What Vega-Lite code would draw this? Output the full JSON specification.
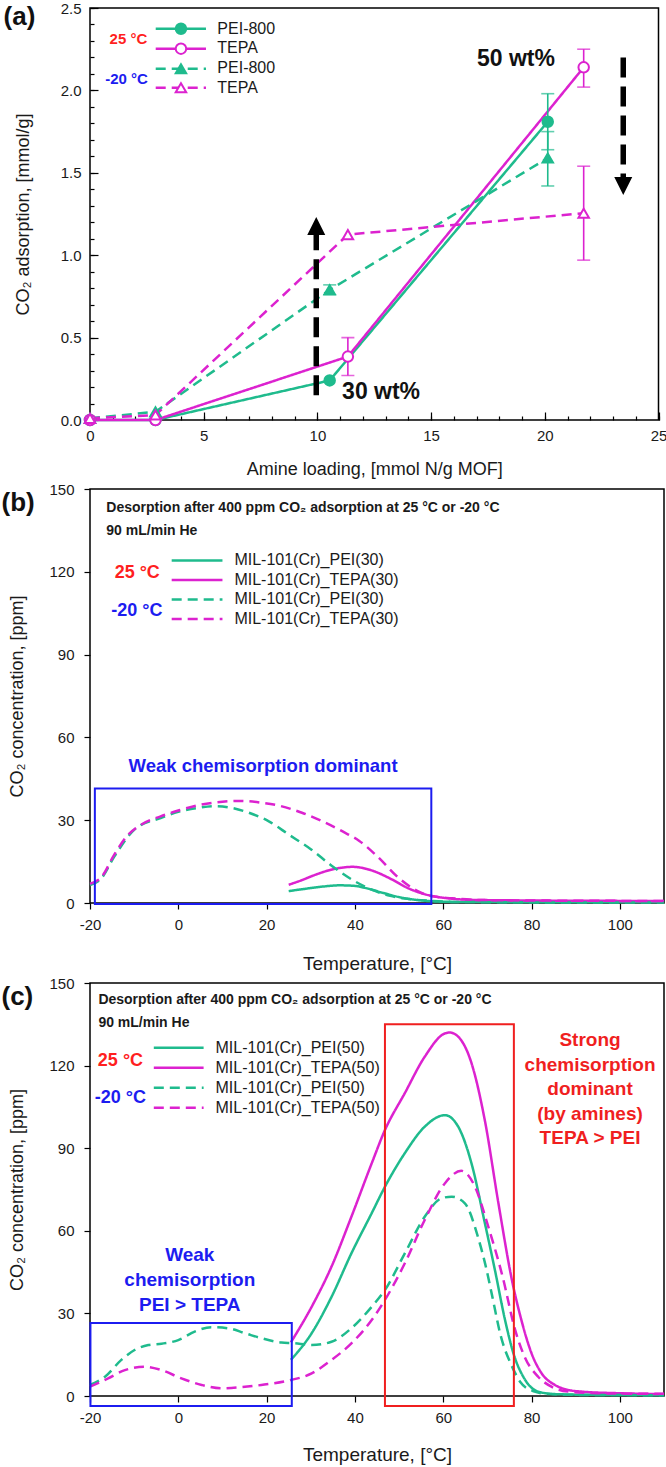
{
  "$schema": "https://vega.github.io/schema/vega-lite/v6.json",
  "padding": {"top": 0, "left": 0, "right": 0, "bottom": 0},
  "background": "white",
  "config": {
    "font": "Liberation Sans",
    "view": {"stroke": "#000", "strokeWidth": 1.5},
    "axis": {"grid": false, "domain": false, "labelFontSize": 15, "titleFontSize": 18, "titleFontWeight": "normal", "labelColor": "#1a1a1a", "titleColor": "#1a1a1a", "tickColor": "#000", "tickWidth": 1.2, "labelFlush": false}
  },
  "datasets": {
    "ads": [
      {"series": "PEI25", "loading": 0, "co2": 0.0},
      {"series": "PEI25", "loading": 2.88, "co2": 0.0},
      {"series": "PEI25", "loading": 10.54, "co2": 0.24},
      {"series": "PEI25", "loading": 20.13, "co2": 1.81, "lo": 1.64, "hi": 1.98},
      {"series": "TEPA25", "loading": 0, "co2": 0.0},
      {"series": "TEPA25", "loading": 2.88, "co2": 0.0},
      {"series": "TEPA25", "loading": 11.34, "co2": 0.385, "lo": 0.27, "hi": 0.5},
      {"series": "TEPA25", "loading": 21.71, "co2": 2.14, "lo": 2.02, "hi": 2.25},
      {"series": "PEI-20", "loading": 0, "co2": 0.01},
      {"series": "PEI-20", "loading": 2.88, "co2": 0.05},
      {"series": "PEI-20", "loading": 10.54, "co2": 0.79, "lo": 0.76, "hi": 0.82},
      {"series": "PEI-20", "loading": 20.13, "co2": 1.59, "lo": 1.42, "hi": 1.75},
      {"series": "TEPA-20", "loading": 0, "co2": 0.01},
      {"series": "TEPA-20", "loading": 2.88, "co2": 0.03},
      {"series": "TEPA-20", "loading": 11.34, "co2": 1.125},
      {"series": "TEPA-20", "loading": 21.71, "co2": 1.255, "lo": 0.97, "hi": 1.54}
    ],
    "tpd30": [
      {"series": "PEI25", "temp": 25, "ppm": 4.3}, {"series": "PEI25", "temp": 29, "ppm": 5.2}, {"series": "PEI25", "temp": 33, "ppm": 6.0}, {"series": "PEI25", "temp": 36.5, "ppm": 6.4}, {"series": "PEI25", "temp": 40, "ppm": 6.2}, {"series": "PEI25", "temp": 42.5, "ppm": 5.4}, {"series": "PEI25", "temp": 46.5, "ppm": 3.6}, {"series": "PEI25", "temp": 51, "ppm": 1.8}, {"series": "PEI25", "temp": 56, "ppm": 0.8}, {"series": "PEI25", "temp": 62, "ppm": 0.4}, {"series": "PEI25", "temp": 80, "ppm": 0.3}, {"series": "PEI25", "temp": 110, "ppm": 0.3},
      {"series": "TEPA25", "temp": 25, "ppm": 6.6}, {"series": "TEPA25", "temp": 28, "ppm": 8.3}, {"series": "TEPA25", "temp": 31, "ppm": 10.2}, {"series": "TEPA25", "temp": 34, "ppm": 11.8}, {"series": "TEPA25", "temp": 37, "ppm": 12.8}, {"series": "TEPA25", "temp": 39.5, "ppm": 13.1}, {"series": "TEPA25", "temp": 42, "ppm": 12.6}, {"series": "TEPA25", "temp": 44.5, "ppm": 11.4}, {"series": "TEPA25", "temp": 48.3, "ppm": 8.6}, {"series": "TEPA25", "temp": 52, "ppm": 5.4}, {"series": "TEPA25", "temp": 56, "ppm": 3.1}, {"series": "TEPA25", "temp": 60, "ppm": 1.9}, {"series": "TEPA25", "temp": 67.5, "ppm": 1.1}, {"series": "TEPA25", "temp": 80, "ppm": 0.9}, {"series": "TEPA25", "temp": 95, "ppm": 0.8}, {"series": "TEPA25", "temp": 110, "ppm": 0.7},
      {"series": "PEI-20", "temp": -20, "ppm": 6.5}, {"series": "PEI-20", "temp": -17.5, "ppm": 8.8}, {"series": "PEI-20", "temp": -14.5, "ppm": 16.8}, {"series": "PEI-20", "temp": -10, "ppm": 26.5}, {"series": "PEI-20", "temp": -4, "ppm": 30.8}, {"series": "PEI-20", "temp": 0, "ppm": 33.0}, {"series": "PEI-20", "temp": 5, "ppm": 34.6}, {"series": "PEI-20", "temp": 8.5, "ppm": 35.1}, {"series": "PEI-20", "temp": 12, "ppm": 34.5}, {"series": "PEI-20", "temp": 16, "ppm": 32.7}, {"series": "PEI-20", "temp": 20.5, "ppm": 29.6}, {"series": "PEI-20", "temp": 25, "ppm": 24.8}, {"series": "PEI-20", "temp": 30, "ppm": 19.5}, {"series": "PEI-20", "temp": 34.5, "ppm": 13.8}, {"series": "PEI-20", "temp": 39, "ppm": 8.8}, {"series": "PEI-20", "temp": 43.5, "ppm": 5.0}, {"series": "PEI-20", "temp": 48, "ppm": 2.6}, {"series": "PEI-20", "temp": 53, "ppm": 1.3}, {"series": "PEI-20", "temp": 57, "ppm": 0.8}, {"series": "PEI-20", "temp": 62, "ppm": 0.4}, {"series": "PEI-20", "temp": 70, "ppm": 0.3}, {"series": "PEI-20", "temp": 90, "ppm": 0.2}, {"series": "PEI-20", "temp": 110, "ppm": 0.2},
      {"series": "TEPA-20", "temp": -20, "ppm": 7.0}, {"series": "TEPA-20", "temp": -17.5, "ppm": 9.2}, {"series": "TEPA-20", "temp": -14.5, "ppm": 17.5}, {"series": "TEPA-20", "temp": -11.5, "ppm": 24.5}, {"series": "TEPA-20", "temp": -8.5, "ppm": 28.3}, {"series": "TEPA-20", "temp": -4, "ppm": 31.4}, {"series": "TEPA-20", "temp": 0, "ppm": 33.5}, {"series": "TEPA-20", "temp": 5, "ppm": 35.6}, {"series": "TEPA-20", "temp": 10, "ppm": 36.7}, {"series": "TEPA-20", "temp": 14, "ppm": 37.0}, {"series": "TEPA-20", "temp": 19, "ppm": 36.3}, {"series": "TEPA-20", "temp": 23, "ppm": 35.2}, {"series": "TEPA-20", "temp": 28, "ppm": 32.7}, {"series": "TEPA-20", "temp": 32.5, "ppm": 29.7}, {"series": "TEPA-20", "temp": 37, "ppm": 26.1}, {"series": "TEPA-20", "temp": 41, "ppm": 22.5}, {"series": "TEPA-20", "temp": 45, "ppm": 17.0}, {"series": "TEPA-20", "temp": 50, "ppm": 9.0}, {"series": "TEPA-20", "temp": 54, "ppm": 4.5}, {"series": "TEPA-20", "temp": 57, "ppm": 2.6}, {"series": "TEPA-20", "temp": 62, "ppm": 1.7}, {"series": "TEPA-20", "temp": 68, "ppm": 1.1}, {"series": "TEPA-20", "temp": 80, "ppm": 0.9}, {"series": "TEPA-20", "temp": 95, "ppm": 0.8}, {"series": "TEPA-20", "temp": 110, "ppm": 0.7}
    ],
    "tpd50": [
      {"series": "PEI25", "temp": 25.5, "ppm": 13.1}, {"series": "PEI25", "temp": 30.2, "ppm": 22.8}, {"series": "PEI25", "temp": 34.7, "ppm": 36.0}, {"series": "PEI25", "temp": 39.2, "ppm": 51.8}, {"series": "PEI25", "temp": 43.8, "ppm": 66.4}, {"series": "PEI25", "temp": 46.8, "ppm": 76.0}, {"series": "PEI25", "temp": 51.3, "ppm": 88.2}, {"series": "PEI25", "temp": 55.8, "ppm": 97.8}, {"series": "PEI25", "temp": 60.4, "ppm": 102}, {"series": "PEI25", "temp": 63.4, "ppm": 97.8}, {"series": "PEI25", "temp": 66.4, "ppm": 84.5}, {"series": "PEI25", "temp": 69.4, "ppm": 63}, {"series": "PEI25", "temp": 71.7, "ppm": 45.8}, {"series": "PEI25", "temp": 74, "ppm": 27.6}, {"series": "PEI25", "temp": 75.9, "ppm": 15.5}, {"series": "PEI25", "temp": 78.5, "ppm": 6}, {"series": "PEI25", "temp": 81.5, "ppm": 1.6}, {"series": "PEI25", "temp": 85.3, "ppm": 0.7}, {"series": "PEI25", "temp": 95, "ppm": 0.4}, {"series": "PEI25", "temp": 110, "ppm": 0.3},
      {"series": "TEPA25", "temp": 25.5, "ppm": 19.5}, {"series": "TEPA25", "temp": 30.2, "ppm": 32.4}, {"series": "TEPA25", "temp": 34.7, "ppm": 47}, {"series": "TEPA25", "temp": 39.2, "ppm": 65.1}, {"series": "TEPA25", "temp": 43.8, "ppm": 84.5}, {"series": "TEPA25", "temp": 46.8, "ppm": 96.6}, {"series": "TEPA25", "temp": 51.3, "ppm": 110}, {"series": "TEPA25", "temp": 55.8, "ppm": 123.2}, {"series": "TEPA25", "temp": 60.4, "ppm": 131.7}, {"series": "TEPA25", "temp": 61.5, "ppm": 132}, {"series": "TEPA25", "temp": 63.4, "ppm": 130.5}, {"series": "TEPA25", "temp": 66.4, "ppm": 120.9}, {"series": "TEPA25", "temp": 69.4, "ppm": 100.3}, {"series": "TEPA25", "temp": 72.5, "ppm": 70}, {"series": "TEPA25", "temp": 75.7, "ppm": 41}, {"series": "TEPA25", "temp": 77.7, "ppm": 27.6}, {"series": "TEPA25", "temp": 80, "ppm": 15.5}, {"series": "TEPA25", "temp": 82.3, "ppm": 8.2}, {"series": "TEPA25", "temp": 85.3, "ppm": 4.0}, {"series": "TEPA25", "temp": 88.3, "ppm": 2.2}, {"series": "TEPA25", "temp": 91.3, "ppm": 1.6}, {"series": "TEPA25", "temp": 100, "ppm": 1.0}, {"series": "TEPA25", "temp": 110, "ppm": 0.7},
      {"series": "PEI-20", "temp": -20, "ppm": 4.0}, {"series": "PEI-20", "temp": -16.6, "ppm": 7.0}, {"series": "PEI-20", "temp": -12.9, "ppm": 13.1}, {"series": "PEI-20", "temp": -9.9, "ppm": 16.7}, {"series": "PEI-20", "temp": -6.8, "ppm": 18.5}, {"series": "PEI-20", "temp": -3.8, "ppm": 19.0}, {"series": "PEI-20", "temp": 0, "ppm": 20.3}, {"series": "PEI-20", "temp": 3.7, "ppm": 23.4}, {"series": "PEI-20", "temp": 7.5, "ppm": 25.0}, {"series": "PEI-20", "temp": 11.3, "ppm": 24.6}, {"series": "PEI-20", "temp": 15.1, "ppm": 22.8}, {"series": "PEI-20", "temp": 18.8, "ppm": 21.0}, {"series": "PEI-20", "temp": 23.4, "ppm": 19.4}, {"series": "PEI-20", "temp": 26, "ppm": 19.2}, {"series": "PEI-20", "temp": 30.2, "ppm": 18.5}, {"series": "PEI-20", "temp": 34.7, "ppm": 19.7}, {"series": "PEI-20", "temp": 39.2, "ppm": 24.6}, {"series": "PEI-20", "temp": 43.8, "ppm": 32.4}, {"series": "PEI-20", "temp": 46.8, "ppm": 38.5}, {"series": "PEI-20", "temp": 51.3, "ppm": 51.8}, {"series": "PEI-20", "temp": 55.8, "ppm": 65.1}, {"series": "PEI-20", "temp": 59.6, "ppm": 71.8}, {"series": "PEI-20", "temp": 61.9, "ppm": 72.4}, {"series": "PEI-20", "temp": 64.9, "ppm": 70.0}, {"series": "PEI-20", "temp": 68, "ppm": 57}, {"series": "PEI-20", "temp": 69.5, "ppm": 48}, {"series": "PEI-20", "temp": 71, "ppm": 37}, {"series": "PEI-20", "temp": 73, "ppm": 22}, {"series": "PEI-20", "temp": 75.5, "ppm": 11}, {"series": "PEI-20", "temp": 77.5, "ppm": 5}, {"series": "PEI-20", "temp": 80.5, "ppm": 1.7}, {"series": "PEI-20", "temp": 84, "ppm": 0.7}, {"series": "PEI-20", "temp": 90, "ppm": 0.4}, {"series": "PEI-20", "temp": 110, "ppm": 0.3},
      {"series": "TEPA-20", "temp": -20, "ppm": 3.4}, {"series": "TEPA-20", "temp": -15.9, "ppm": 6.4}, {"series": "TEPA-20", "temp": -12.1, "ppm": 9.4}, {"series": "TEPA-20", "temp": -7.6, "ppm": 10.6}, {"series": "TEPA-20", "temp": -3.8, "ppm": 9.4}, {"series": "TEPA-20", "temp": 0.7, "ppm": 6.4}, {"series": "TEPA-20", "temp": 5.3, "ppm": 4.0}, {"series": "TEPA-20", "temp": 9.8, "ppm": 2.8}, {"series": "TEPA-20", "temp": 14.3, "ppm": 3.2}, {"series": "TEPA-20", "temp": 18.8, "ppm": 4.0}, {"series": "TEPA-20", "temp": 24.9, "ppm": 5.6}, {"series": "TEPA-20", "temp": 30.2, "ppm": 8.2}, {"series": "TEPA-20", "temp": 34.7, "ppm": 13.1}, {"series": "TEPA-20", "temp": 39.2, "ppm": 19.1}, {"series": "TEPA-20", "temp": 43.8, "ppm": 27.6}, {"series": "TEPA-20", "temp": 46.8, "ppm": 34.9}, {"series": "TEPA-20", "temp": 51.3, "ppm": 48.2}, {"series": "TEPA-20", "temp": 55.8, "ppm": 63.9}, {"series": "TEPA-20", "temp": 60.4, "ppm": 77.3}, {"series": "TEPA-20", "temp": 64.1, "ppm": 81.8}, {"series": "TEPA-20", "temp": 67.2, "ppm": 76.0}, {"series": "TEPA-20", "temp": 70.2, "ppm": 61.5}, {"series": "TEPA-20", "temp": 73.5, "ppm": 43}, {"series": "TEPA-20", "temp": 76.2, "ppm": 24.5}, {"series": "TEPA-20", "temp": 78.5, "ppm": 14}, {"series": "TEPA-20", "temp": 81.5, "ppm": 7}, {"series": "TEPA-20", "temp": 84.5, "ppm": 3.4}, {"series": "TEPA-20", "temp": 88.3, "ppm": 1.6}, {"series": "TEPA-20", "temp": 95, "ppm": 1.0}, {"series": "TEPA-20", "temp": 110, "ppm": 0.8}
    ]
  },
  "concat": [
    {
      "width": 568.5,
      "height": 412,
      "data": {"name": "ads"},
      "resolve": {"axis": {"x": "independent", "y": "independent"}},
      "layer": [
        {
          "layer": [
            {
              "mark": {"type": "line", "strokeWidth": 2.5},
              "encoding": {
                "x": {"field": "loading", "type": "quantitative", "scale": {"domain": [0, 25], "nice": false, "zero": false},
                  "axis": {"title": "Amine loading, [mmol N/g MOF]", "values": [0, 5, 10, 15, 20, 25], "tickSize": -8, "labelPadding": 16.5, "titlePadding": 17}},
                "y": {"field": "co2", "type": "quantitative", "scale": {"domain": [0, 2.5], "nice": false, "zero": false},
                  "axis": {"title": "CO₂ adsorption, [mmol/g]", "values": [0, 0.5, 1, 1.5, 2, 2.5], "format": ".1f", "tickSize": -8, "labelPadding": 17, "titlePadding": 28}},
                "color": {"field": "series", "type": "nominal", "scale": {"domain": ["PEI25", "TEPA25", "PEI-20", "TEPA-20"], "range": ["#1fbb8d", "#dc22cf", "#1fbb8d", "#dc22cf"]}, "legend": null},
                "strokeDash": {"field": "series", "type": "nominal", "scale": {"domain": ["PEI25", "TEPA25", "PEI-20", "TEPA-20"], "range": [[1, 0], [1, 0], [10, 6], [10, 6]]}, "legend": null}
              }
            },
            {
              "transform": [{"filter": "isValid(datum.lo)"}],
              "mark": {"type": "errorbar", "ticks": true, "size": 13, "thickness": 1.6},
              "encoding": {
                "x": {"field": "loading", "type": "quantitative", "title": "Amine loading, [mmol N/g MOF]"},
                "y": {"field": "lo", "type": "quantitative", "title": "CO₂ adsorption, [mmol/g]"},
                "y2": {"field": "hi"},
                "color": {"field": "series", "type": "nominal", "legend": null}
              }
            },
            {
              "mark": {"type": "point", "size": 110, "strokeWidth": 2, "opacity": 1},
              "encoding": {
                "x": {"field": "loading", "type": "quantitative", "title": "Amine loading, [mmol N/g MOF]"},
                "y": {"field": "co2", "type": "quantitative", "title": "CO₂ adsorption, [mmol/g]"},
                "shape": {"field": "series", "type": "nominal", "scale": {"domain": ["PEI25", "TEPA25", "PEI-20", "TEPA-20"], "range": ["circle", "circle", "triangle-up", "triangle-up"]}, "legend": null},
                "fill": {"field": "series", "type": "nominal", "scale": {"domain": ["PEI25", "TEPA25", "PEI-20", "TEPA-20"], "range": ["#1fbb8d", "#ffffff", "#1fbb8d", "#ffffff"]}, "legend": null},
                "stroke": {"field": "series", "type": "nominal", "scale": {"domain": ["PEI25", "TEPA25", "PEI-20", "TEPA-20"], "range": ["#1fbb8d", "#dc22cf", "#1fbb8d", "#dc22cf"]}, "legend": null}
              }
            },
            {"data": {"values": [{}]}, "mark": {"type": "text", "text": "(a)", "fontSize": 26, "fontWeight": "bold", "align": "left", "baseline": "middle", "color": "#111"}, "encoding": {"x": {"datum": -3.8}, "y": {"datum": 2.445}}},
            {"data": {"values": [{}]}, "mark": {"type": "text", "text": "25 °C", "fontSize": 15, "fontWeight": "bold", "align": "center", "baseline": "middle", "color": "#ff1f1f"}, "encoding": {"x": {"datum": 1.69}, "y": {"datum": 2.314}}},
            {"data": {"values": [{}]}, "mark": {"type": "text", "text": "-20 °C", "fontSize": 15, "fontWeight": "bold", "align": "center", "baseline": "middle", "color": "#1c1cf0"}, "encoding": {"x": {"datum": 1.61}, "y": {"datum": 2.071}}},
            {"data": {"values": [{}]}, "mark": {"type": "rule", "color": "#1fbb8d", "strokeWidth": 2.5}, "encoding": {"x": {"datum": 2.89}, "x2": {"datum": 5.1}, "y": {"datum": 2.374}}},
            {"data": {"values": [{}]}, "mark": {"type": "rule", "color": "#dc22cf", "strokeWidth": 2.5}, "encoding": {"x": {"datum": 2.89}, "x2": {"datum": 5.1}, "y": {"datum": 2.253}}},
            {"data": {"values": [{}]}, "mark": {"type": "rule", "color": "#1fbb8d", "strokeWidth": 2.5, "strokeDash": [10, 6]}, "encoding": {"x": {"datum": 2.89}, "x2": {"datum": 5.1}, "y": {"datum": 2.131}}},
            {"data": {"values": [{}]}, "mark": {"type": "rule", "color": "#dc22cf", "strokeWidth": 2.5, "strokeDash": [10, 6]}, "encoding": {"x": {"datum": 2.89}, "x2": {"datum": 5.1}, "y": {"datum": 2.016}}},
            {"data": {"values": [{}]}, "mark": {"type": "point", "shape": "circle", "size": 110, "strokeWidth": 2, "opacity": 1, "fill": "#1fbb8d", "stroke": "#1fbb8d"}, "encoding": {"x": {"datum": 4.0}, "y": {"datum": 2.374}}},
            {"data": {"values": [{}]}, "mark": {"type": "point", "shape": "circle", "size": 110, "strokeWidth": 2, "opacity": 1, "fill": "#ffffff", "stroke": "#dc22cf"}, "encoding": {"x": {"datum": 4.0}, "y": {"datum": 2.253}}},
            {"data": {"values": [{}]}, "mark": {"type": "point", "shape": "triangle-up", "size": 110, "strokeWidth": 2, "opacity": 1, "fill": "#1fbb8d", "stroke": "#1fbb8d"}, "encoding": {"x": {"datum": 4.0}, "y": {"datum": 2.131}}},
            {"data": {"values": [{}]}, "mark": {"type": "point", "shape": "triangle-up", "size": 110, "strokeWidth": 2, "opacity": 1, "fill": "#ffffff", "stroke": "#dc22cf"}, "encoding": {"x": {"datum": 4.0}, "y": {"datum": 2.016}}},
            {"data": {"values": [{}]}, "mark": {"type": "text", "text": ["PEI-800", "TEPA", "PEI-800", "TEPA"], "fontSize": 16, "lineHeight": 19.7, "align": "left", "baseline": "middle", "color": "#1a1a1a"}, "encoding": {"x": {"datum": 5.6}, "y": {"datum": 2.374}}},
            {"data": {"values": [{}]}, "mark": {"type": "text", "text": "50 wt%", "fontSize": 23, "fontWeight": "bold", "align": "center", "baseline": "middle", "color": "#111"}, "encoding": {"x": {"datum": 18.73}, "y": {"datum": 2.19}}},
            {"data": {"values": [{}]}, "mark": {"type": "text", "text": "30 wt%", "fontSize": 23, "fontWeight": "bold", "align": "center", "baseline": "middle", "color": "#111"}, "encoding": {"x": {"datum": 12.8}, "y": {"datum": 0.17}}},
            {"data": {"values": [{}]}, "mark": {"type": "rule", "color": "#000", "strokeWidth": 5.5, "strokeDash": [20, 9]}, "encoding": {"x": {"datum": 9.95}, "y": {"datum": 0.15}, "y2": {"datum": 1.13}}},
            {"data": {"values": [{}]}, "mark": {"type": "point", "shape": "M0,-1L1,1L-1,1Z", "size": 324, "filled": true, "color": "#000", "opacity": 1}, "encoding": {"x": {"datum": 9.95}, "y": {"datum": 1.177}}},
            {"data": {"values": [{}]}, "mark": {"type": "rule", "color": "#000", "strokeWidth": 5.5, "strokeDash": [20, 9]}, "encoding": {"x": {"datum": 23.45}, "y": {"datum": 2.2}, "y2": {"datum": 1.45}}},
            {"data": {"values": [{}]}, "mark": {"type": "point", "shape": "M-1,-1L1,-1L0,1Z", "size": 324, "filled": true, "color": "#000", "opacity": 1}, "encoding": {"x": {"datum": 23.45}, "y": {"datum": 1.42}}}
          ]
        },
        {
          "mark": {"type": "point", "opacity": 0},
          "encoding": {
            "x": {"field": "loading", "type": "quantitative",
              "axis": {"orient": "bottom", "values": [0,1,2,3,4,5,6,7,8,9,10,11,12,13,14,15,16,17,18,19,20,21,22,23,24,25], "labels": false, "title": null, "tickSize": -4}},
            "y": {"field": "co2", "type": "quantitative",
              "axis": {"orient": "left", "values": [0,0.1,0.2,0.3,0.4,0.5,0.6,0.7,0.8,0.9,1,1.1,1.2,1.3,1.4,1.5,1.6,1.7,1.8,1.9,2,2.1,2.2,2.3,2.4,2.5], "labels": false, "title": null, "tickSize": -4}}
          }
        }
      ]
    },
    {
      "width": 574,
      "height": 414,
      "data": {"name": "tpd30"},
      "layer": [
        {
          "mark": {"type": "line", "strokeWidth": 2.5, "interpolate": "monotone"},
          "encoding": {
            "x": {"field": "temp", "type": "quantitative", "scale": {"domain": [-20, 110], "nice": false, "zero": false},
              "axis": {"title": "Temperature, [°C]", "values": [-20, 0, 20, 40, 60, 80, 100], "labelExpr": "replace(datum.label, '−', '-')", "tickSize": 6, "labelPadding": 8, "titlePadding": 22, "titleFontSize": 19}},
            "y": {"field": "ppm", "type": "quantitative", "scale": {"domain": [0, 150], "nice": false, "zero": false},
              "axis": {"title": "CO₂ concentration, [ppm]", "values": [0, 30, 60, 90, 120, 150], "tickSize": 6, "labelPadding": 10, "titlePadding": 22}},
            "color": {"field": "series", "type": "nominal", "scale": {"domain": ["PEI25", "TEPA25", "PEI-20", "TEPA-20"], "range": ["#1fbb8d", "#dc22cf", "#1fbb8d", "#dc22cf"]}, "legend": null},
            "strokeDash": {"field": "series", "type": "nominal", "scale": {"domain": ["PEI25", "TEPA25", "PEI-20", "TEPA-20"], "range": [[1, 0], [1, 0], [10, 6], [10, 6]]}, "legend": null}
          }
        },
        {"data": {"values": [{}]}, "mark": {"type": "rect", "filled": false, "color": "#1c1cf0", "strokeWidth": 2}, "encoding": {"x": {"datum": -18.9}, "x2": {"datum": 57.3}, "y": {"datum": -0.4}, "y2": {"datum": 41.5}}},
        {"data": {"values": [{}]}, "mark": {"type": "text", "text": "(b)", "fontSize": 26, "fontWeight": "bold", "align": "left", "baseline": "middle", "color": "#111"}, "encoding": {"x": {"datum": -40.05}, "y": {"datum": 144.9}}},
        {"data": {"values": [{}]}, "mark": {"type": "text", "text": "Desorption after 400 ppm CO₂ adsorption at 25 °C or -20 °C", "fontSize": 14, "fontWeight": "bold", "align": "left", "baseline": "middle", "color": "#1a1a1a"}, "encoding": {"x": {"datum": -16.3}, "y": {"datum": 143.1}}},
        {"data": {"values": [{}]}, "mark": {"type": "text", "text": "90 mL/min He", "fontSize": 14, "fontWeight": "bold", "align": "left", "baseline": "middle", "color": "#1a1a1a"}, "encoding": {"x": {"datum": -16.3}, "y": {"datum": 134.8}}},
        {"data": {"values": [{}]}, "mark": {"type": "text", "text": "25 °C", "fontSize": 18, "fontWeight": "bold", "align": "center", "baseline": "middle", "color": "#ff1f1f"}, "encoding": {"x": {"datum": -9.3}, "y": {"datum": 119.7}}},
        {"data": {"values": [{}]}, "mark": {"type": "text", "text": "-20 °C", "fontSize": 18, "fontWeight": "bold", "align": "center", "baseline": "middle", "color": "#1c1cf0"}, "encoding": {"x": {"datum": -9.4}, "y": {"datum": 105.8}}},
        {"data": {"values": [{}]}, "mark": {"type": "rule", "color": "#1fbb8d", "strokeWidth": 2.5}, "encoding": {"x": {"datum": -1.5}, "x2": {"datum": 10}, "y": {"datum": 124.1}}},
        {"data": {"values": [{}]}, "mark": {"type": "rule", "color": "#dc22cf", "strokeWidth": 2.5}, "encoding": {"x": {"datum": -1.5}, "x2": {"datum": 10}, "y": {"datum": 117.0}}},
        {"data": {"values": [{}]}, "mark": {"type": "rule", "color": "#1fbb8d", "strokeWidth": 2.5, "strokeDash": [10, 6]}, "encoding": {"x": {"datum": -1.5}, "x2": {"datum": 10}, "y": {"datum": 110.0}}},
        {"data": {"values": [{}]}, "mark": {"type": "rule", "color": "#dc22cf", "strokeWidth": 2.5, "strokeDash": [10, 6]}, "encoding": {"x": {"datum": -1.5}, "x2": {"datum": 10}, "y": {"datum": 102.9}}},
        {"data": {"values": [{}]}, "mark": {"type": "text", "text": ["MIL-101(Cr)_PEI(30)", "MIL-101(Cr)_TEPA(30)", "MIL-101(Cr)_PEI(30)", "MIL-101(Cr)_TEPA(30)"], "fontSize": 16, "lineHeight": 19.5, "align": "left", "baseline": "middle", "color": "#1a1a1a"}, "encoding": {"x": {"datum": 12.7}, "y": {"datum": 124.1}}},
        {"data": {"values": [{}]}, "mark": {"type": "text", "text": "Weak chemisorption dominant", "fontSize": 18.5, "fontWeight": "bold", "align": "center", "baseline": "middle", "color": "#1c1cf0"}, "encoding": {"x": {"datum": 19.2}, "y": {"datum": 49.6}}}
      ]
    },
    {
      "width": 574,
      "height": 413,
      "data": {"name": "tpd50"},
      "layer": [
        {
          "mark": {"type": "line", "strokeWidth": 2.5, "interpolate": "monotone"},
          "encoding": {
            "x": {"field": "temp", "type": "quantitative", "scale": {"domain": [-20, 110], "nice": false, "zero": false},
              "axis": {"title": "Temperature, [°C]", "values": [-20, 0, 20, 40, 60, 80, 100], "labelExpr": "replace(datum.label, '−', '-')", "tickSize": 6, "labelPadding": 8, "titlePadding": 20, "titleFontSize": 19}},
            "y": {"field": "ppm", "type": "quantitative", "scale": {"domain": [0, 150], "nice": false, "zero": false},
              "axis": {"title": "CO₂ concentration, [ppm]", "values": [0, 30, 60, 90, 120, 150], "tickSize": 6, "labelPadding": 10, "titlePadding": 22}},
            "color": {"field": "series", "type": "nominal", "scale": {"domain": ["PEI25", "TEPA25", "PEI-20", "TEPA-20"], "range": ["#1fbb8d", "#dc22cf", "#1fbb8d", "#dc22cf"]}, "legend": null},
            "strokeDash": {"field": "series", "type": "nominal", "scale": {"domain": ["PEI25", "TEPA25", "PEI-20", "TEPA-20"], "range": [[1, 0], [1, 0], [10, 6], [10, 6]]}, "legend": null}
          }
        },
        {"data": {"values": [{}]}, "mark": {"type": "rect", "filled": false, "color": "#1c1cf0", "strokeWidth": 2}, "encoding": {"x": {"datum": -19.9}, "x2": {"datum": 25.7}, "y": {"datum": -3.6}, "y2": {"datum": 26.5}}},
        {"data": {"values": [{}]}, "mark": {"type": "rect", "filled": false, "color": "#f01f1f", "strokeWidth": 2}, "encoding": {"x": {"datum": 46.8}, "x2": {"datum": 76.0}, "y": {"datum": -3.6}, "y2": {"datum": 135}}},
        {"data": {"values": [{}]}, "mark": {"type": "text", "text": "(c)", "fontSize": 26, "fontWeight": "bold", "align": "left", "baseline": "middle", "color": "#111"}, "encoding": {"x": {"datum": -40.05}, "y": {"datum": 144.9}}},
        {"data": {"values": [{}]}, "mark": {"type": "text", "text": "Desorption after 400 ppm CO₂ adsorption at 25 °C or -20 °C", "fontSize": 14, "fontWeight": "bold", "align": "left", "baseline": "middle", "color": "#1a1a1a"}, "encoding": {"x": {"datum": -18.1}, "y": {"datum": 143.8}}},
        {"data": {"values": [{}]}, "mark": {"type": "text", "text": "90 mL/min He", "fontSize": 14, "fontWeight": "bold", "align": "left", "baseline": "middle", "color": "#1a1a1a"}, "encoding": {"x": {"datum": -18.1}, "y": {"datum": 135.5}}},
        {"data": {"values": [{}]}, "mark": {"type": "text", "text": "25 °C", "fontSize": 18, "fontWeight": "bold", "align": "center", "baseline": "middle", "color": "#ff1f1f"}, "encoding": {"x": {"datum": -13.1}, "y": {"datum": 121.7}}},
        {"data": {"values": [{}]}, "mark": {"type": "text", "text": "-20 °C", "fontSize": 18, "fontWeight": "bold", "align": "center", "baseline": "middle", "color": "#1c1cf0"}, "encoding": {"x": {"datum": -13.1}, "y": {"datum": 108.4}}},
        {"data": {"values": [{}]}, "mark": {"type": "rule", "color": "#1fbb8d", "strokeWidth": 2.5}, "encoding": {"x": {"datum": -5.55}, "x2": {"datum": 5.73}, "y": {"datum": 126.5}}},
        {"data": {"values": [{}]}, "mark": {"type": "rule", "color": "#dc22cf", "strokeWidth": 2.5}, "encoding": {"x": {"datum": -5.55}, "x2": {"datum": 5.73}, "y": {"datum": 119.2}}},
        {"data": {"values": [{}]}, "mark": {"type": "rule", "color": "#1fbb8d", "strokeWidth": 2.5, "strokeDash": [10, 6]}, "encoding": {"x": {"datum": -5.55}, "x2": {"datum": 5.73}, "y": {"datum": 112.0}}},
        {"data": {"values": [{}]}, "mark": {"type": "rule", "color": "#dc22cf", "strokeWidth": 2.5, "strokeDash": [10, 6]}, "encoding": {"x": {"datum": -5.55}, "x2": {"datum": 5.73}, "y": {"datum": 104.7}}},
        {"data": {"values": [{}]}, "mark": {"type": "text", "text": ["MIL-101(Cr)_PEI(50)", "MIL-101(Cr)_TEPA(50)", "MIL-101(Cr)_PEI(50)", "MIL-101(Cr)_TEPA(50)"], "fontSize": 16, "lineHeight": 20, "align": "left", "baseline": "middle", "color": "#1a1a1a"}, "encoding": {"x": {"datum": 8.43}, "y": {"datum": 126.5}}},
        {"data": {"values": [{}]}, "mark": {"type": "text", "text": ["Weak", "chemisorption", "PEI > TEPA"], "fontSize": 19, "lineHeight": 25, "fontWeight": "bold", "align": "center", "baseline": "middle", "color": "#1c1cf0"}, "encoding": {"x": {"datum": 2.6}, "y": {"datum": 51.2}}},
        {"data": {"values": [{}]}, "mark": {"type": "text", "text": ["Strong", "chemisorption", "dominant", "(by amines)", "TEPA > PEI"], "fontSize": 19, "lineHeight": 24.6, "fontWeight": "bold", "align": "center", "baseline": "middle", "color": "#f01f1f"}, "encoding": {"x": {"datum": 93.25}, "y": {"datum": 129.3}}}
      ]
    }
  ],
  "columns": 1,
  "align": "none",
  "spacing": 1
}
